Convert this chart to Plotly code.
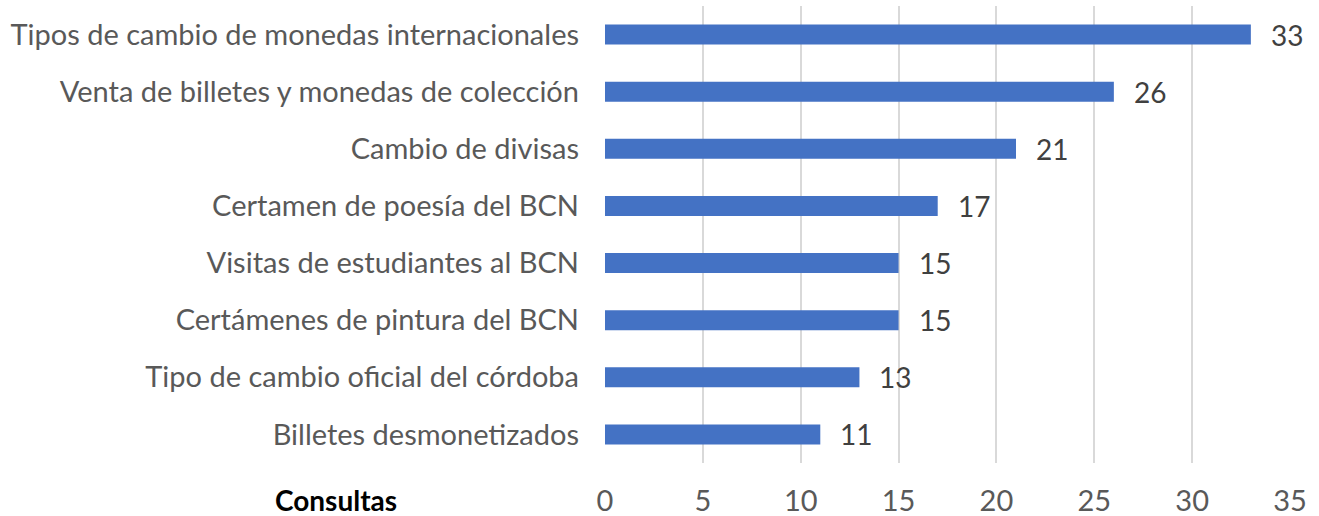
import plotly.graph_objects as go

categories = [
    "Billetes desmonetizados",
    "Tipo de cambio oficial del córdoba",
    "Certámenes de pintura del BCN",
    "Visitas de estudiantes al BCN",
    "Certamen de poesía del BCN",
    "Cambio de divisas",
    "Venta de billetes y monedas de colección",
    "Tipos de cambio de monedas internacionales",
]
values = [11, 13, 15, 15, 17, 21, 26, 33]
tick_vals = [0, 5, 10, 15, 20, 25, 30, 35]
axis_label = "Consultas"

FONT = "Lato, Carlito, Calibri, sans-serif"
W, H = 1319, 516
L, R, T, B = 605, 29, 6, 53

fig = go.Figure()
fig.add_trace(go.Bar(
    x=values, y=categories, orientation="h",
    marker=dict(color="#4472C4", line=dict(width=0)),
    showlegend=False, hoverinfo="x+y",
))

for c, v in zip(categories, values):
    fig.add_annotation(x=v, y=c, xref="x", yref="y", text=str(v),
                       showarrow=False, xanchor="left", yanchor="middle",
                       xshift=18, font=dict(family=FONT, size=28, color="#404040"))

fig.add_annotation(x=(336 - L) / (W - L - R), y=-(500 - (H - B)) / (H - T - B),
                   xref="paper", yref="paper", text="<b>%s</b>" % axis_label,
                   showarrow=False, xanchor="center", yanchor="middle",
                   font=dict(family=FONT, size=28, color="#000000"))

fig.update_layout(
    width=W, height=H,
    margin=dict(l=L, r=R, t=T, b=B, pad=0, autoexpand=False),
    paper_bgcolor="white", plot_bgcolor="white",
    bargap=0.65,
    font=dict(family=FONT, size=29, color="#595959"),
    xaxis=dict(range=[0, 35], tickvals=tick_vals, showgrid=True,
               gridcolor="#D9D9D9", gridwidth=2, zeroline=False,
               showline=False, ticks="", ticklabelstandoff=18,
               tickfont=dict(family=FONT, size=29, color="#595959")),
    yaxis=dict(showgrid=False, zeroline=False, showline=False, ticks="",
               ticklabelstandoff=25,
               tickfont=dict(family=FONT, size=29, color="#595959")),
)
fig.write_html("out.html", config={"displayModeBar": False},
               post_script="document.body.style.margin='0';")
